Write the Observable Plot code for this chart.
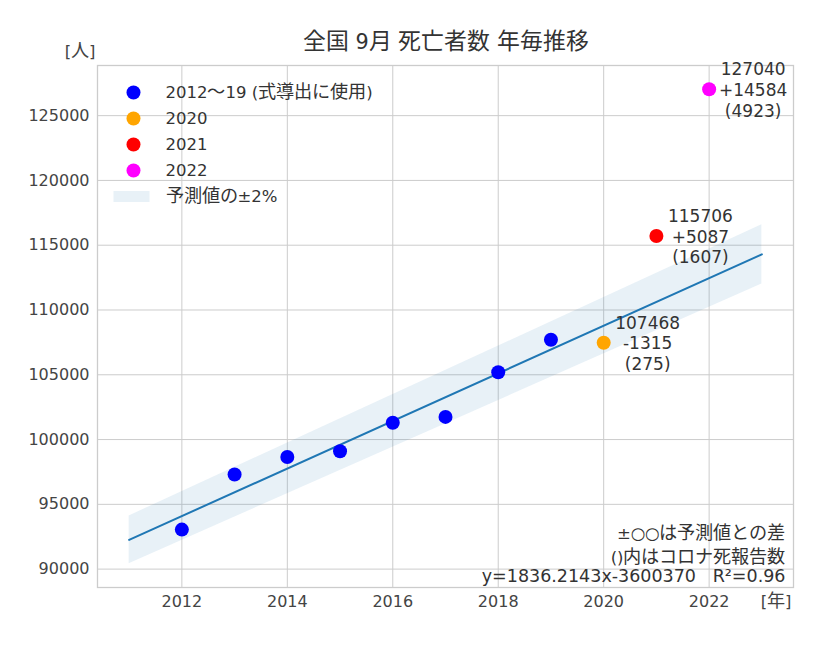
<!DOCTYPE html>
<html>
<head>
<meta charset="utf-8">
<script src="https://cdn.jsdelivr.net/npm/d3@7"></script>
<script src="https://cdn.jsdelivr.net/npm/@observablehq/plot@0.6"></script>
<style>
@font-face {
  font-family: "JPBig";
  src: local("Noto Sans CJK JP"), local("Noto Sans CJK JP Regular"), local("NotoSansCJKjp-Regular");
  size-adjust: 110%;
}
body { margin: 0; background: #fff; }
#wrap { position: relative; width: 828px; height: 652px; font-family: "DejaVu Sans", "JPBig", "Noto Sans CJK JP", sans-serif; }
#title { position: absolute; top: 27px; left: 64px; width: 764px; text-align: center; line-height: 30px; font-size: 20.8px; color: #333; }
#chart { position: absolute; top: 0; left: 0; }
</style>
</head>
<body>
<div id="wrap">
  <div id="chart"></div>
  <div id="title">全国 9月 死亡者数 年毎推移</div>
</div>
<script>
// ---- data ----
const fitYears = [2012, 2013, 2014, 2015, 2016, 2017, 2018, 2019];
const fitDeaths = [93050, 97300, 98650, 99100, 101300, 101750, 105200, 107700];
const recentYears = [2020, 2021, 2022];
const recentDeaths = [107468, 115706, 127040];
const recentDiffs = ["-1315", "+5087", "+14584"];
const covidDeaths = [275, 1607, 4923];
const recentColors = ["orange", "red", "magenta"];
const slope = 1836.2143;
const intercept = -3600370;
const lineYears = [2011, 2023];
const xTicks = [2012, 2014, 2016, 2018, 2020, 2022];
const yTicks = [90000, 95000, 100000, 105000, 110000, 115000, 120000, 125000];
const legendLabels = ["2012〜19 (式導出に使用)", "2020", "2021", "2022"];
const legendColors = ["blue", "orange", "red", "magenta"];
const bandLabel = "予測値の±2%";
const noteLines = "±○○は予測値との差\n()内はコロナ死報告数";
const eqText = "y=1836.2143x-3600370   R²=0.96";

const fitData = fitYears.map((x, i) => ({x, y: fitDeaths[i]}));
const recentData = recentYears.map((x, i) => ({x, y: recentDeaths[i], diff: recentDiffs[i], covid: covidDeaths[i], color: recentColors[i]}));
const lineData = lineYears.map(x => ({x, y: slope * x + intercept}));

const patchSymbol = {
  draw(ctx) {
    ctx.moveTo(-18, -5.5); ctx.lineTo(18, -5.5); ctx.lineTo(18, 5.5); ctx.lineTo(-18, 5.5); ctx.closePath();
  }
};

const FONT = '"DejaVu Sans", "JPBig", "Noto Sans CJK JP", sans-serif';
const TXT = "#333";

const legendMarks = [];
legendLabels.forEach((lab, i) => {
  legendMarks.push(Plot.dot([lab], {frameAnchor: "top-left", dx: 36, dy: 27 + 26 * i, r: 7, fill: legendColors[i], stroke: "none"}));
  legendMarks.push(Plot.text([lab], {frameAnchor: "top-left", dx: 68, dy: 27 + 26 * i, text: d => d, textAnchor: "start", lineAnchor: "middle", fontSize: 16.5, fill: TXT}));
});
legendMarks.push(Plot.dot([bandLabel], {frameAnchor: "top-left", dx: 34, dy: 131, symbol: patchSymbol, fill: "#1f77b4", fillOpacity: 0.1, stroke: "none"}));
legendMarks.push(Plot.text([bandLabel], {frameAnchor: "top-left", dx: 68, dy: 131, text: d => d, textAnchor: "start", lineAnchor: "middle", fontSize: 16.5, fill: TXT}));

const chart = Plot.plot({
  width: 828,
  height: 620,
  marginTop: 65,
  marginLeft: 97,
  marginRight: 35,
  marginBottom: 33,
  style: {fontFamily: FONT, fontSize: "16px", color: "#444", background: "transparent", overflow: "visible"},
  x: {domain: [2010.4, 2023.6], ticks: xTicks, tickFormat: d => String(d), tickSize: 0, tickPadding: 8, label: null},
  y: {domain: [88581, 128871], ticks: yTicks, tickFormat: d => String(d), tickSize: 0, tickPadding: 8, label: null},
  marks: [
    Plot.ruleX(xTicks, {x: d => d, stroke: "#cccccc", strokeWidth: 1}),
    Plot.ruleY(yTicks, {y: d => d, stroke: "#cccccc", strokeWidth: 1}),
    Plot.frame({stroke: "#cccccc", strokeWidth: 1.3}),
    Plot.areaY(lineData, {x: "x", y1: d => d.y * 0.98, y2: d => d.y * 1.02, fill: "#1f77b4", fillOpacity: 0.1}),
    Plot.line(lineData, {x: "x", y: "y", stroke: "#1f77b4", strokeWidth: 2}),
    Plot.dot(fitData, {x: "x", y: "y", r: 7, fill: "blue", stroke: "none"}),
    Plot.dot(recentData, {x: "x", y: "y", r: 7, fill: d => d.color, stroke: "none"}),
    Plot.text(recentData, {x: "x", y: "y", text: d => `${d.y}\n${d.diff}\n(${d.covid})`, dx: 44, textAnchor: "middle", lineAnchor: "middle", lineHeight: 1.22, fontSize: 17, fill: TXT}),
    Plot.text([noteLines], {frameAnchor: "bottom-right", dx: -8, dy: -44, text: d => d, textAnchor: "end", lineAnchor: "middle", lineHeight: 1.45, fontSize: 16.5, fill: TXT}),
    Plot.text([eqText], {frameAnchor: "bottom-right", dx: -8, dy: -11, text: d => d, textAnchor: "end", lineAnchor: "middle", fontSize: 17.5, fill: TXT}),
    Plot.text(["[人]"], {frameAnchor: "top-left", dx: -2, dy: -14, text: d => d, textAnchor: "end", lineAnchor: "middle", fontSize: 16.5, fill: "#444"}),
    Plot.text(["[年]"], {frameAnchor: "bottom-right", dx: -2, dy: 14, text: d => d, textAnchor: "end", lineAnchor: "middle", fontSize: 16.5, fill: "#444"}),
    ...legendMarks
  ]
});
document.getElementById("chart").appendChild(chart);
</script>
</body>
</html>
